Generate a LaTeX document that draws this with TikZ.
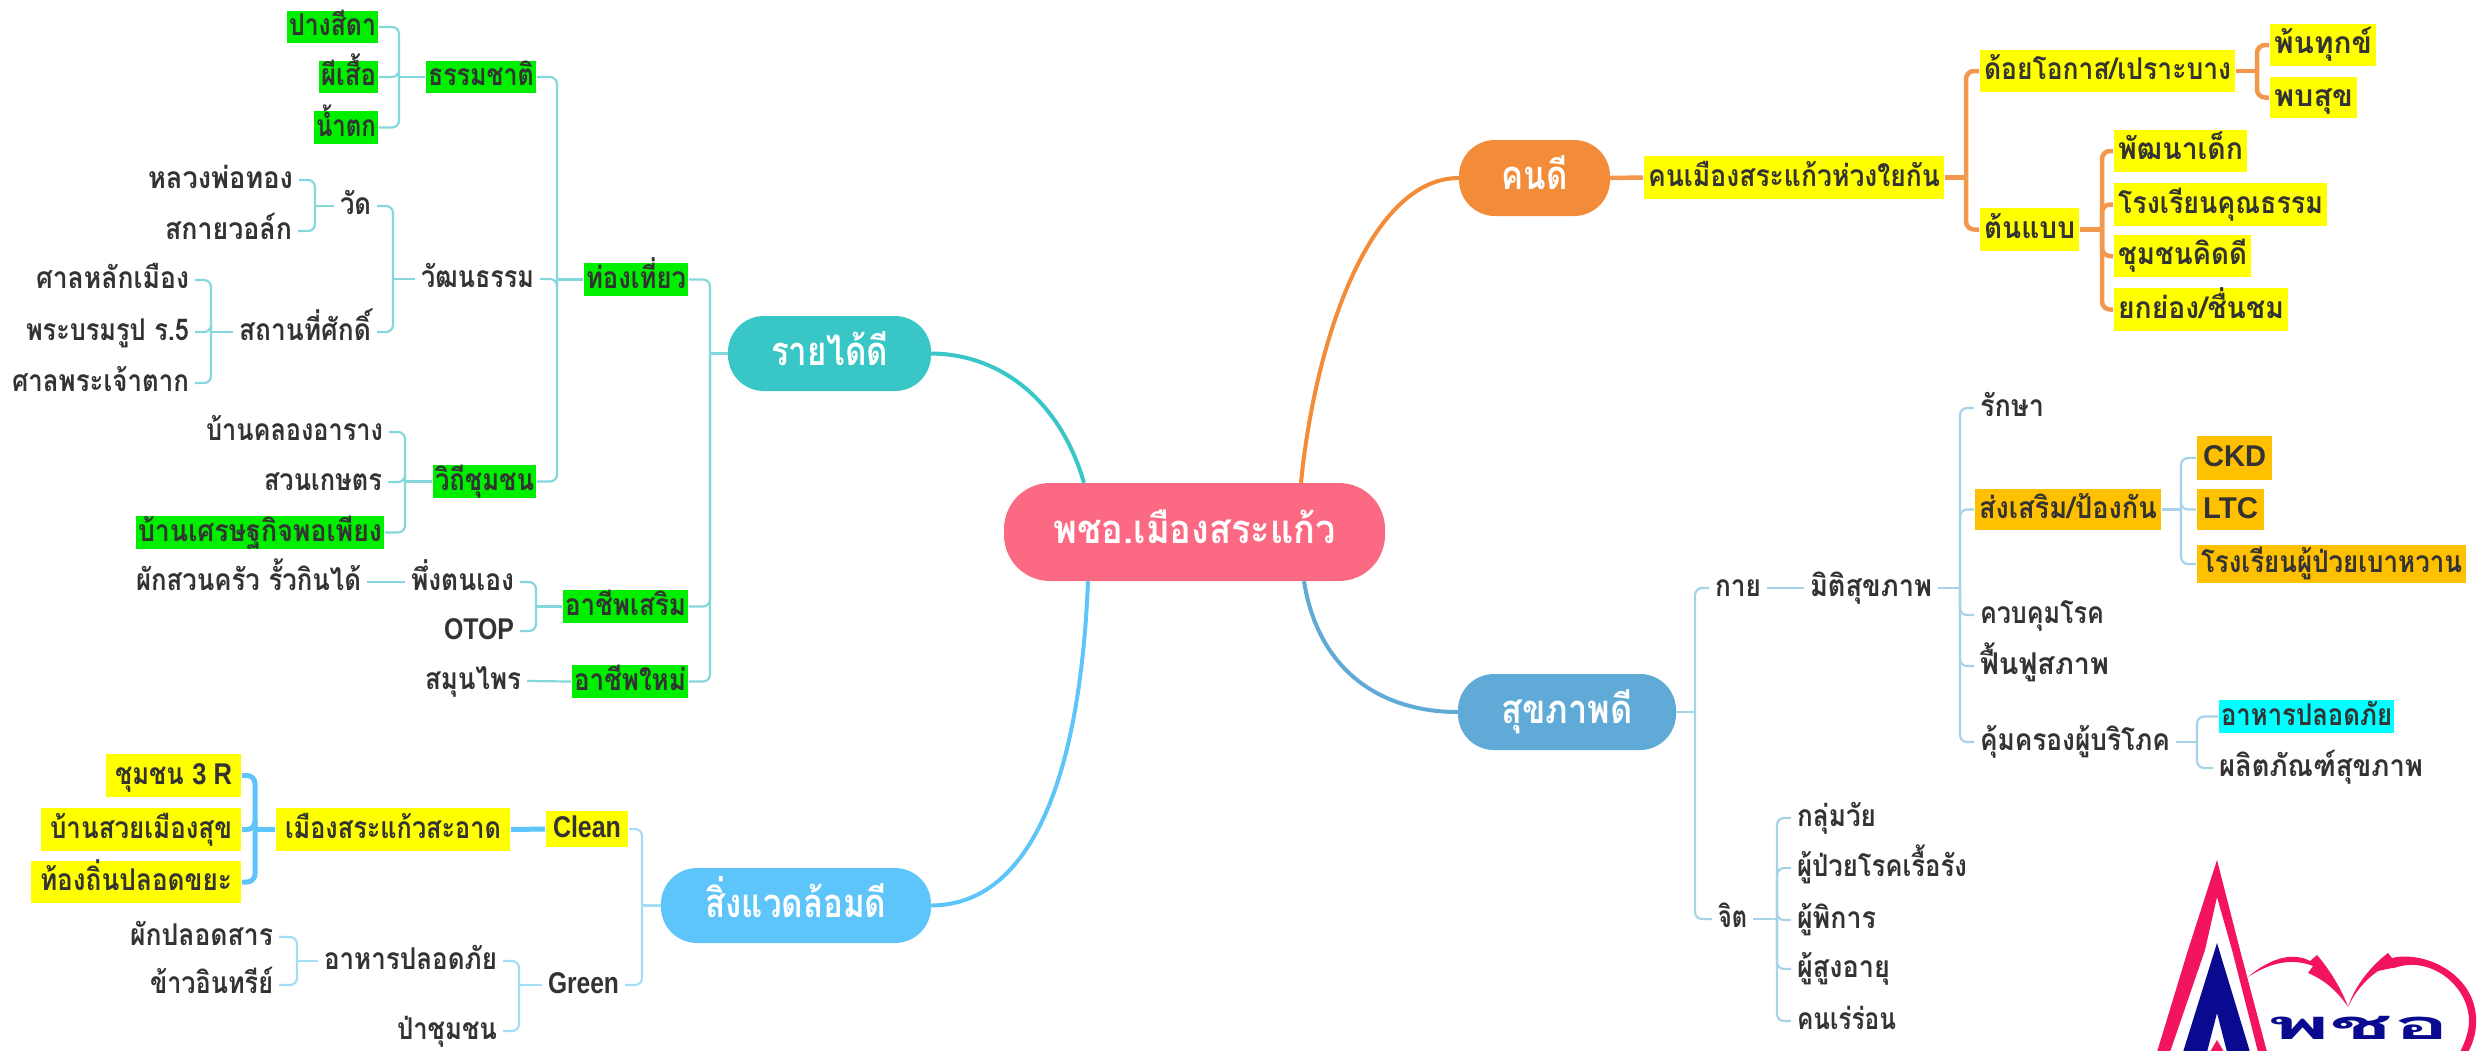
\documentclass[tikz,border=0pt]{standalone}
\usepackage{fontspec}
\usepackage{graphicx}
\newfontfamily\thaifont[Script=Thai]{Loma}
\newfontfamily\latfont{Liberation Sans}
\definecolor{txt}{HTML}{333333}
\definecolor{cGreen}{HTML}{00EE00}
\definecolor{cYellow}{HTML}{FFFF00}
\definecolor{cAmber}{HTML}{FFC000}
\definecolor{cCyan}{HTML}{00FFFF}
\definecolor{pCentral}{HTML}{FB6982}
\definecolor{pTeal}{HTML}{38C6C6}
\definecolor{pSky}{HTML}{5EC5FB}
\definecolor{pOrange}{HTML}{F28C38}
\definecolor{pBlue}{HTML}{5FAAD6}
\definecolor{lnTeal}{HTML}{84D8DC}
\definecolor{lnSky}{HTML}{A4DDF6}
\definecolor{lnBlue}{HTML}{A6D3E8}
\definecolor{lgPink}{HTML}{F2145F}
\definecolor{lgNavy}{HTML}{0A0A90}
\newsavebox{\fitbox}
\newcommand{\fitw}[2]{\sbox{\fitbox}{#2}\pgfmathsetmacro{\myratio}{(#1)/\the\wd\fitbox}\scalebox{\myratio}[1]{\usebox{\fitbox}}}
\newcommand{\lat}[1]{{\latfont #1}}
\tikzset{
  lblfont/.style={font=\fontsize{30}{36}\selectfont\thaifont\bfseries,text=txt},
  plain/.style={lblfont,inner sep=0pt,outer sep=6pt,text height=24pt,text depth=7pt,minimum height=31pt},
  hlbox/.style={lblfont,inner sep=0pt,outer sep=1pt,text height=24pt,text depth=7pt},
  pill/.style={inner sep=0pt,text=white,font=\fontsize{40}{48}\selectfont\thaifont\bfseries,text height=32pt,text depth=9pt},
  mainline/.style={line width=4pt},
  thinT/.style={draw=lnTeal,line width=2.2pt,rounded corners=7pt},
  thinS/.style={draw=lnSky,line width=2.2pt,rounded corners=7pt},
  thinB/.style={draw=lnBlue,line width=2.2pt,rounded corners=7pt},
  thickS/.style={draw=pSky,line width=5pt,rounded corners=8pt},
  thickO/.style={draw=pOrange!90!white,line width=4.5pt,rounded corners=8pt}
}
% plain label: name,x1,x2,cy,text
\newcommand{\PL}[5]{\node[plain,minimum width=#3pt-#2pt] (#1) at ({(#2+#3)/2},#4) {\fitw{#3-#2}{#5}};}
% highlighted label: name,x1,x2,y1,y2,colour,pad,text
\newcommand{\HL}[8]{\node[hlbox,fill=#6,minimum width=#3pt-#2pt,minimum height=#5pt-#4pt] (#1) at ({(#2+#3)/2},{(#4+#5)/2}) {\fitw{#3-#2-2*#7}{#8}};}
% pill: name,x1,x2,y1,y2,colour and radius,textwidth,text
\newcommand{\PI}[8]{\node[pill,fill=#6,minimum width=#3pt-#2pt,minimum height=#5pt-#4pt] (#1) at ({(#2+#3)/2},{(#4+#5)/2}) {\fitw{#7}{#8}};}
% brackets: style,parent,x of the upright,children
\newcommand{\BL}[4]{\coordinate (bk) at (#3,0);\draw[#1] (#2.west) -- (bk |- #2.west);\foreach \c in {#4}{\draw[#1] (bk |- #2.west) |- (\c.east);}}
\newcommand{\BR}[4]{\coordinate (bk) at (#3,0);\draw[#1] (#2.east) -- (bk |- #2.east);\foreach \c in {#4}{\draw[#1] (bk |- #2.east) |- (\c.west);}}
\begin{document}
\begin{tikzpicture}[x=1pt,y=-1pt]
\useasboundingbox (0,0) rectangle (2478,1050);
\clip (0,0) rectangle (2478,1050);
% pills
\PI{central}{1004}{1385}{483}{581}{pCentral,rounded corners=46pt}{282}{พชอ.เมืองสระแก้ว}
\PI{roi}{728}{931}{316}{391}{pTeal,rounded corners=36pt}{117}{รายได้ดี}
\PI{env}{661}{931}{868}{943}{pSky,rounded corners=36pt}{181}{สิ่งแวดล้อมดี}
\PI{kon}{1459}{1610}{140}{216}{pOrange,rounded corners=36pt}{66}{คนดี}
\PI{suk}{1458}{1676}{674}{750}{pBlue,rounded corners=36pt}{131}{สุขภาพดี}
% main curves
\draw[mainline,draw=pOrange] ([xshift=106.5pt]central.north) .. controls (1315,340) and (1370,178) .. (kon.west);
\draw[mainline,draw=pBlue] ([xshift=109.5pt]central.south) .. controls (1318,670) and (1380,712) .. (suk.west);
\draw[mainline,draw=pTeal] ([xshift=-110.5pt]central.north) .. controls (1060,400) and (1000,354) .. (roi.east);
\draw[mainline,draw=pSky] ([xshift=-106.5pt]central.south) .. controls (1080,780) and (1030,905) .. (env.east);
% tourism branch
\HL{pang}{287}{378}{11}{43}{cGreen}{2}{ปางสีดา}
\HL{phi}{319}{378}{61}{93}{cGreen}{2}{ผีเสื้อ}
\HL{nam}{314}{378}{111}{144}{cGreen}{2}{น้ำตก}
\HL{thamma}{426}{536}{61}{93}{cGreen}{2}{ธรรมชาติ}
\PL{lp}{148}{293}{180}{หลวงพ่อทอง}
\PL{sky}{165}{292}{231}{สกายวอล์ก}
\PL{wat}{340}{371}{206}{วัด}
\PL{lak}{36}{189}{280}{ศาลหลักเมือง}
\PL{rama}{26}{189}{332}{พระบรมรูป ร.5}
\PL{tak}{12}{189}{383}{ศาลพระเจ้าตาก}
\PL{sathan}{239}{371}{332}{สถานที่ศักดิ์}
\PL{wattana}{421}{534}{279}{วัฒนธรรม}
\HL{thong}{584}{688}{263}{296}{cGreen}{2}{ท่องเที่ยว}
\PL{khlong}{206}{383}{432}{บ้านคลองอาราง}
\PL{kaset}{264}{382}{482}{สวนเกษตร}
\HL{setthakit}{136}{384}{516}{549}{cGreen}{2}{บ้านเศรษฐกิจพอเพียง}
\HL{withi}{433}{536}{465}{498}{cGreen}{2}{วิถีชุมชน}
\PL{kitchen}{136}{361}{582}{ผักสวนครัว รั้วกินได้}
\PL{pueng}{411}{514}{582}{พึ่งตนเอง}
\PL{otop}{444}{514}{631}{\lat{OTOP}}
\HL{aserm}{563}{688}{590}{623}{cGreen}{2}{อาชีพเสริม}
\PL{smun}{425}{521}{681}{สมุนไพร}
\HL{amai}{572}{688}{665}{698}{cGreen}{2}{อาชีพใหม่}
\BL{thinT}{thamma}{399}{pang,phi,nam}
\BL{thinT}{wat}{315}{lp,sky}
\BL{thinT}{sathan}{211}{lak,rama,tak}
\BL{thinT}{wattana}{393}{wat,sathan}
\BL{thinT}{thong}{557}{thamma,wattana,withi}
\BL{thinT}{withi}{405}{khlong,kaset,setthakit}
\BL{thinT}{roi}{710}{thong,aserm,amai}
\BL{thinT}{aserm}{536}{pueng,otop}
\draw[thinT] (pueng.west) -- (kitchen.east);
\draw[thinT] (amai.west) -- (smun.east);
% environment branch
\HL{c3r}{106}{241}{754}{797}{cYellow}{9}{ชุมชน \lat{3 R}}
\HL{suay}{41}{241}{808}{851}{cYellow}{9}{บ้านสวยเมืองสุข}
\HL{thiin}{31}{241}{861}{903}{cYellow}{9}{ท้องถิ่นปลอดขยะ}
\HL{muang}{276}{510}{808}{851}{cYellow}{9}{เมืองสระแก้วสะอาด}
\HL{clean}{546}{628}{811}{847}{cYellow}{7}{\lat{Clean}}
\PL{green}{548}{619}{985}{\lat{Green}}
\PL{phak}{130}{273}{937}{ผักปลอดสาร}
\PL{khao}{150}{273}{985}{ข้าวอินทรีย์}
\PL{food}{324}{497}{961}{อาหารปลอดภัย}
\PL{pa}{397}{497}{1031}{ป่าชุมชน}
\BL{thinS}{env}{642}{clean,green}
\draw[thickS] (clean.west) -- (muang.east);
\BL{thickS}{muang}{255}{c3r,suay,thiin}
\BL{thinS}{green}{519}{food,pa}
\BL{thinS}{food}{297}{phak,khao}
% people branch
\HL{kmuang}{1644}{1944}{156}{199}{cYellow}{4}{คนเมืองสระแก้วห่วงใยกัน}
\HL{doi}{1980}{2235}{50}{92}{cYellow}{4}{ด้อยโอกาส/เปราะบาง}
\HL{ton}{1980}{2079}{208}{251}{cYellow}{4}{ต้นแบบ}
\HL{pan}{2270}{2376}{24}{66}{cYellow}{4}{พ้นทุกข์}
\HL{pob}{2270}{2357}{77}{118}{cYellow}{4}{พบสุข}
\HL{dev}{2114}{2247}{130}{172}{cYellow}{4}{พัฒนาเด็ก}
\HL{rong}{2114}{2327}{183}{226}{cYellow}{4}{โรงเรียนคุณธรรม}
\HL{chum}{2114}{2251}{235}{277}{cYellow}{4}{ชุมชนคิดดี}
\HL{yok}{2114}{2288}{288}{331}{cYellow}{4}{ยกย่อง/ชื่นชม}
\draw[thickO] (kon.east) -- (kmuang.west);
\BR{thickO}{kmuang}{1966}{doi,ton}
\BR{thickO}{doi}{2257}{pan,pob}
\BR{thickO}{ton}{2102}{dev,rong,chum,yok}
% health branch
\PL{kai}{1715}{1761}{588}{กาย}
\PL{miti}{1810}{1932}{588}{มิติสุขภาพ}
\PL{raksa}{1980}{2044}{408}{รักษา}
\HL{song}{1975}{2161}{489}{530}{cAmber}{4}{ส่งเสริม/ป้องกัน}
\HL{ckd}{2197}{2272}{436}{480}{cAmber}{6}{\lat{CKD}}
\HL{ltc}{2197}{2264}{489}{530}{cAmber}{6}{\lat{LTC}}
\HL{dm}{2197}{2466}{545}{583}{cAmber}{4}{โรงเรียนผู้ป่วยเบาหวาน}
\PL{khuap}{1980}{2104}{615}{ควบคุมโรค}
\PL{fuen}{1980}{2109}{666}{ฟื้นฟูสภาพ}
\PL{khum}{1980}{2170}{742}{คุ้มครองผู้บริโภค}
\HL{safe}{2219}{2394}{700}{733}{cCyan}{2}{อาหารปลอดภัย}
\PL{prod}{2219}{2423}{768}{ผลิตภัณฑ์สุขภาพ}
\PL{chit}{1718}{1747}{919}{จิต}
\PL{group}{1797}{1876}{818}{กลุ่มวัย}
\PL{chronic}{1797}{1967}{868}{ผู้ป่วยโรคเรื้อรัง}
\PL{disab}{1797}{1876}{920}{ผู้พิการ}
\PL{elder}{1797}{1890}{969}{ผู้สูงอายุ}
\PL{home}{1797}{1896}{1021}{คนเร่ร่อน}
\BR{thinB}{suk}{1695}{kai,chit}
\draw[thinB] (kai.east) -- (miti.west);
\BR{thinB}{miti}{1960}{raksa,song,khuap,fuen,khum}
\BR{thinB}{song}{2181}{ckd,ltc,dm}
\BR{thinB}{khum}{2197}{safe,prod}
\BR{thinB}{chit}{1777}{group,chronic,disab,elder,home}
% logo
\fill[lgPink] (2217,860) -- (2188,950) -- (2157,1052) -- (2170,1052) -- (2205,950) -- (2217,897) -- (2232,950) -- (2258,1052) -- (2267,1052) -- (2240,950) -- cycle;
\fill[lgNavy] (2217,943) -- (2183,1052) -- (2207,1052) -- (2217,1013) -- (2227,1052) -- (2250,1052) -- cycle;
\fill[lgPink] (2217,1040) -- (2210,1052) -- (2224,1052) -- cycle;
\fill[lgPink] (2248,977) .. controls (2265,962) and (2290,950) .. (2310,961) -- (2317,955) .. controls (2330,970) and (2342,990) .. (2348,1007) .. controls (2338,992) and (2325,980) .. (2308,973) -- (2313,966) .. controls (2290,957) and (2268,964) .. cycle;
\fill[lgPink] (2348,1007) .. controls (2355,985) and (2372,965) .. (2388,953) -- (2392,958) .. controls (2425,950) and (2478,975) .. (2476,1023) .. controls (2476,1035) and (2472,1045) .. (2468,1052) -- (2460,1052) .. controls (2466,1040) and (2469,1030) .. (2469,1020) .. controls (2468,985) and (2430,955) .. (2394,968) -- (2392,968) -- (2378,971) .. controls (2365,980) and (2355,992) .. cycle;
\node[inner sep=0pt,anchor=base,text=lgNavy,font=\fontsize{40}{44}\selectfont\thaifont\bfseries] (logotext) at (2359,1039) {\fitw{182}{พชอ}};
\end{tikzpicture}
\end{document}
